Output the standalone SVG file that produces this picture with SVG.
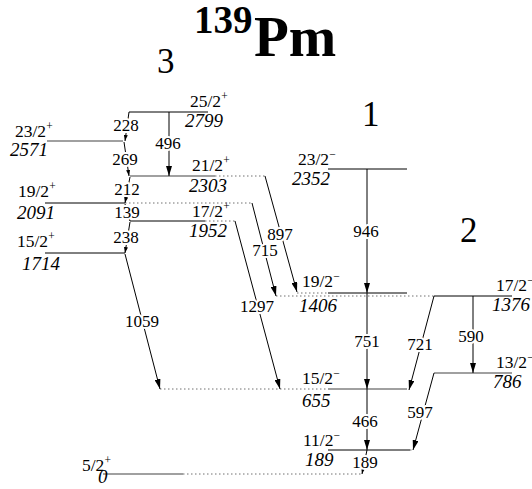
<svg xmlns="http://www.w3.org/2000/svg" width="532" height="489" viewBox="0 0 532 489" font-family="'Liberation Serif', 'Times New Roman', 'DejaVu Serif', serif">
<style>
text{font-family:"Liberation Serif","Times New Roman","DejaVu Serif",serif;fill:#000}
.lv{stroke:#000;stroke-width:1;fill:none}
.lg{stroke:#808080;stroke-width:1.6;fill:none}
.dt{stroke:#707070;stroke-width:1;stroke-dasharray:1.5,2.5;fill:none}
.tr{stroke:#000;stroke-width:1;fill:none;marker-end:url(#ah)}
.ts{stroke:#000;stroke-width:1;fill:none;marker-end:url(#as)}
.sp{font-size:17.5px}
.en{font-size:19px;font-style:italic}
.tl{font-size:17px;text-anchor:middle;paint-order:stroke;stroke:#fff;stroke-width:4;stroke-linejoin:round}
.sup{font-size:11.5px}
.big{font-size:35px}
</style>
<defs>
<marker id="ah" viewBox="0 0 10 6" refX="10" refY="3" markerWidth="10" markerHeight="6" markerUnits="userSpaceOnUse" orient="auto"><path d="M0,0 L10,3 L0,6 z" fill="#000"/></marker>
<marker id="as" viewBox="0 0 6 4" refX="6" refY="2" markerWidth="6" markerHeight="4" markerUnits="userSpaceOnUse" orient="auto"><path d="M0,0 L6,2 L0,4 z" fill="#000"/></marker>
</defs>
<g id="title">
<text x="194" y="33" font-size="39" font-weight="bold">139</text>
<text x="254" y="56" font-size="57" font-weight="bold">Pm</text>
</g>
<g id="band-labels">
<text class="big" x="157" y="73">3</text>
<text class="big" x="362" y="126">1</text>
<text class="big" x="460" y="242">2</text>
</g>
<g id="lev-2799"><line class="lv" x1="129" y1="112" x2="208" y2="112"/><text class="sp" x="190" y="107">25/2<tspan class="sup" dy="-7">+</tspan></text><text class="en" x="185" y="127">2799</text></g>
<g id="lev-2571"><line class="lg" x1="47" y1="141" x2="123" y2="141"/><text class="sp" x="15" y="137">23/2<tspan class="sup" dy="-7">+</tspan></text><text class="en" x="10" y="156">2571</text></g>
<g id="lev-2303"><line class="lg" x1="130" y1="176" x2="215" y2="176"/><line class="dt" x1="215" y1="176" x2="265" y2="176"/><text class="sp" x="192" y="171">21/2<tspan class="sup" dy="-7">+</tspan></text><text class="en" x="189" y="192">2303</text></g>
<g id="lev-2091"><line class="lv" x1="45" y1="203" x2="125" y2="203"/><line class="dt" x1="125" y1="203" x2="252" y2="203"/><text class="sp" x="18" y="197">19/2<tspan class="sup" dy="-7">+</tspan></text><text class="en" x="17" y="219">2091</text></g>
<g id="lev-1952"><line class="lv" x1="130" y1="221" x2="205" y2="221"/><line class="dt" x1="205" y1="221" x2="235" y2="221"/><text class="sp" x="192" y="217">17/2<tspan class="sup" dy="-7">+</tspan></text><text class="en" x="189" y="237">1952</text></g>
<g id="lev-1714"><line class="lv" x1="45" y1="253" x2="125" y2="253"/><text class="sp" x="17" y="247">15/2<tspan class="sup" dy="-7">+</tspan></text><text class="en" x="22" y="270">1714</text></g>
<g id="lev-2352"><line class="lv" x1="328" y1="169" x2="407" y2="169"/><text class="sp" x="298" y="165">23/2<tspan class="sup" dy="-7">−</tspan></text><text class="en" x="292" y="185">2352</text></g>
<g id="lev-1406"><line class="lv" x1="328" y1="293" x2="407" y2="293"/><line class="dt" x1="297" y1="293" x2="328" y2="293"/><text class="sp" x="302" y="287">19/2<tspan class="sup" dy="-7">−</tspan></text><text class="en" x="299" y="312">1406</text></g>
<g id="lev-1376"><line class="lv" x1="434" y1="296" x2="512" y2="296"/><line class="dt" x1="276" y1="296" x2="434" y2="296"/><text class="sp" x="496" y="291">17/2<tspan class="sup" dy="-7">−</tspan></text><text class="en" x="492" y="311">1376</text></g>
<g id="lev-786"><line class="lg" x1="434" y1="373" x2="512" y2="373"/><text class="sp" x="496" y="368">13/2<tspan class="sup" dy="-7">−</tspan></text><text class="en" x="493" y="388">786</text></g>
<g id="lev-655"><line class="lg" x1="328" y1="389" x2="407" y2="389"/><line class="dt" x1="160" y1="389" x2="328" y2="389"/><text class="sp" x="302" y="384">15/2<tspan class="sup" dy="-7">−</tspan></text><text class="en" x="302" y="407">655</text></g>
<g id="lev-189"><line class="lv" x1="328" y1="450" x2="410" y2="450"/><line class="dt" x1="410" y1="450" x2="413" y2="450"/><text class="sp" x="303" y="446">11/2<tspan class="sup" dy="-7">−</tspan></text><text class="en" x="305" y="466">189</text></g>
<g id="lev-0"><line class="lg" x1="103" y1="474" x2="183" y2="474"/><line class="dt" x1="183" y1="474" x2="362" y2="474"/><text class="sp" x="82" y="471">5/2<tspan class="sup" dy="-7">+</tspan></text><text class="en" x="98" y="483">0</text></g>
<g id="connectors">
<line class="ts" x1="129" y1="112" x2="125" y2="141"/>
<line class="ts" x1="124" y1="142" x2="129" y2="176"/>
<line class="ts" x1="130" y1="177" x2="125" y2="203"/>
<line class="ts" x1="125" y1="204" x2="130" y2="221"/>
<line class="ts" x1="130" y1="222" x2="125" y2="253"/>
<line class="tr" x1="125" y1="254" x2="160" y2="389"/>
<line class="tr" x1="169" y1="112" x2="169" y2="176"/>
<line class="tr" x1="265" y1="176" x2="297" y2="292"/>
<line class="tr" x1="252" y1="203" x2="276" y2="296"/>
<line class="tr" x1="235" y1="221" x2="280" y2="389"/>
<line class="tr" x1="367" y1="169" x2="367" y2="293"/>
<line class="tr" x1="367" y1="293" x2="367" y2="389"/>
<line class="tr" x1="367" y1="389" x2="367" y2="450"/>
<line class="ts" x1="367" y1="450" x2="362" y2="474"/>
<line class="tr" x1="434" y1="296" x2="409" y2="390"/>
<line class="tr" x1="473" y1="296" x2="473" y2="373"/>
<line class="tr" x1="434" y1="373" x2="413" y2="450"/>
<text class="tl" x="126" y="131">228</text>
<text class="tl" x="125" y="165">269</text>
<text class="tl" x="127" y="195">212</text>
<text class="tl" x="127" y="218">139</text>
<text class="tl" x="126" y="243">238</text>
<text class="tl" x="142" y="327">1059</text>
<text class="tl" x="168" y="149">496</text>
<text class="tl" x="280" y="240">897</text>
<text class="tl" x="265" y="256">715</text>
<text class="tl" x="257" y="312">1297</text>
<text class="tl" x="366" y="237">946</text>
<text class="tl" x="367" y="347">751</text>
<text class="tl" x="365" y="427">466</text>
<text class="tl" x="365" y="468">189</text>
<text class="tl" x="420" y="350">721</text>
<text class="tl" x="471" y="342">590</text>
<text class="tl" x="420" y="418">597</text>
</g>
</svg>
